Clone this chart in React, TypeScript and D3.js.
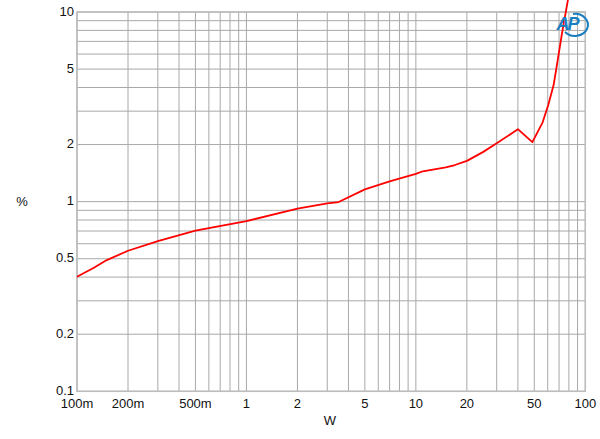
import * as d3 from "d3";

// output power (W) vs THD+N (%)
const powerW = [0.1, 0.125, 0.15, 0.2, 0.3, 0.5, 1, 2, 3, 3.5, 5, 7, 10, 11, 15, 17, 20, 25, 30, 40, 48.7, 56, 60.5, 65, 68.5, 72.6, 79];
const thdPct = [0.402, 0.447, 0.492, 0.551, 0.62, 0.703, 0.79, 0.918, 0.98, 0.995, 1.16, 1.28, 1.4, 1.446, 1.517, 1.56, 1.64, 1.83, 2.03, 2.41, 2.06, 2.62, 3.24, 4.12, 5.47, 7.57, 11.6];

const xTicks = [0.1, 0.2, 0.5, 1, 2, 5, 10, 20, 50, 100];
const xTickLabels = ["100m", "200m", "500m", "1", "2", "5", "10", "20", "50", "100"];
const yTicks = [0.1, 0.2, 0.5, 1, 2, 5, 10];
const yTickLabels = ["0.1", "0.2", "0.5", "1", "2", "5", "10"];

const W = 600,
  H = 439;
const margin = { top: 12, right: 14.7, bottom: 47.7, left: 77 };

function decadeGrid(lo: number, hi: number) {
  const out: number[] = [];
  for (let d = lo; d < hi; d *= 10) for (let k = 1; k <= 9; k++) out.push(d * k);
  out.push(hi);
  return out;
}

export default function App() {
  const x = d3.scaleLog().domain([0.1, 100]).range([margin.left, W - margin.right]);
  const y = d3.scaleLog().domain([0.1, 10]).range([H - margin.bottom, margin.top]);

  const xGrid = decadeGrid(0.1, 100);
  const yGrid = decadeGrid(0.1, 10);

  const line = d3
    .line<number>()
    .x((_, i) => x(powerW[i]))
    .y((d) => y(d));

  const font = "'Liberation Sans', Arial, sans-serif";

  return (
    <div style={{ position: "absolute", left: 0, top: 0 }}>
      <svg width={W} height={H} style={{ display: "block", background: "#fff" }}>
        <g stroke="#a8a8a8" strokeWidth={1}>
          {xGrid.map((v) => (
            <line key={"x" + v} x1={x(v)} x2={x(v)} y1={y(0.1)} y2={y(10)} />
          ))}
          {yGrid.map((v) => (
            <line key={"y" + v} x1={x(0.1)} x2={x(100)} y1={y(v)} y2={y(v)} />
          ))}
        </g>
        <rect
          x={x(0.1)}
          y={y(10)}
          width={x(100) - x(0.1)}
          height={y(0.1) - y(10)}
          fill="none"
          stroke="#bcbcbc"
          strokeWidth={1.5}
        />
        <path
          d={line(thdPct) || ""}
          fill="none"
          stroke="#ff0000"
          strokeWidth={1.8}
          strokeLinejoin="round"
        />

        <g fontFamily={font} fontSize={13} fill="#111">
          {yTicks.map((v, i) => (
            <text key={v} x={margin.left - 3} y={y(v) - 1} dy="0.35em" textAnchor="end">
              {yTickLabels[i]}
            </text>
          ))}
          {xTicks.map((v, i) => (
            <text key={v} x={x(v)} y={y(0.1) + 17} textAnchor="middle">
              {xTickLabels[i]}
            </text>
          ))}
          <text x={22} y={201} dy="0.35em" textAnchor="middle">
            %
          </text>
          <text x={330} y={425} textAnchor="middle">
            W
          </text>
        </g>

        {/* AP logo */}
        <g transform="translate(571,24)">
          <path
            d="M -6 8 A 13 11 0 1 0 2 -10"
            fill="none"
            stroke="#1a7fc1"
            strokeWidth={2}
          />
          <text
            x={-4}
            y={6}
            textAnchor="middle"
            fontFamily={font}
            fontStyle="italic"
            fontWeight="bold"
            fontSize={18}
            fill="#1a7fc1"
            letterSpacing={-2}
          >
            AP
          </text>
        </g>
      </svg>
    </div>
  );
}
